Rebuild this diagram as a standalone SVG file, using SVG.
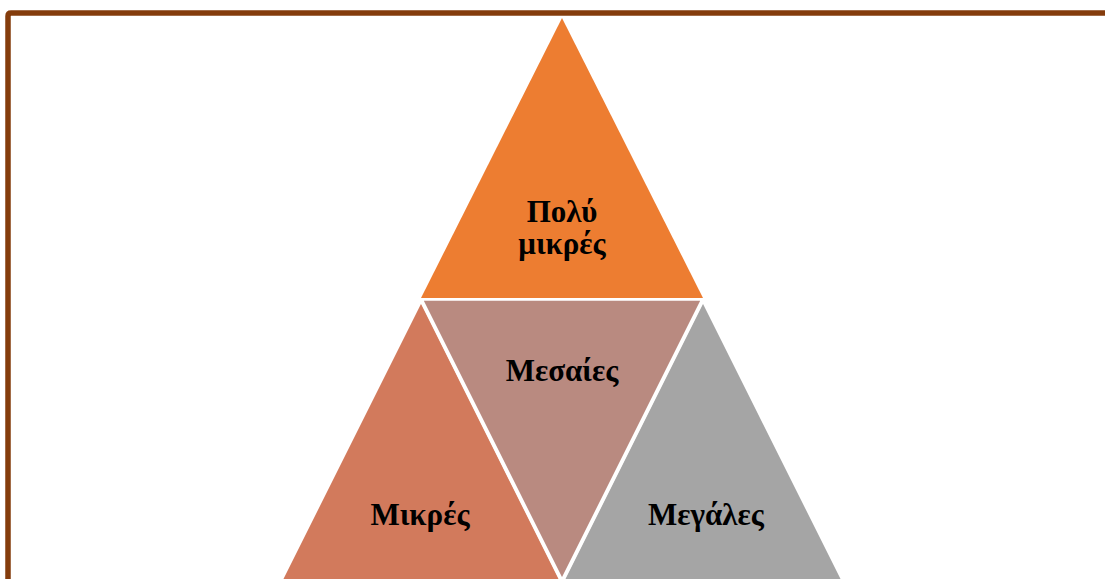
<svg xmlns="http://www.w3.org/2000/svg" width="1105" height="579" viewBox="0 0 1105 579">
<style>
.t{font-family:"Liberation Serif","Times New Roman",serif;font-weight:bold;font-size:31px;fill:#000;text-anchor:middle}
.s{stroke:#fff;stroke-width:3.5;stroke-linejoin:miter}
</style>
<rect width="1105" height="579" fill="#fff"/>
<path d="M8 579 V16 Q8 13 11 13 H1105" fill="none" stroke="#843C0C" stroke-width="5.5"/>
<g id="node-left">
<polygon class="s" points="421,300 279,584 563,584" fill="#D27A5C"/>
<text class="t" x="420" y="525">Μικρές</text>
</g>
<g id="node-right">
<polygon class="s" points="703,300 561,584 845,584" fill="#A5A5A5"/>
<text class="t" x="706" y="525">Μεγάλες</text>
</g>
<g id="node-middle">
<polygon class="s" points="421,299 703,299 562,581" fill="#B98A80"/>
<text class="t" x="562" y="381">Μεσαίες</text>
</g>
<g id="node-top">
<polygon points="562,18 421,298 703,298" fill="#ED7D31"/>
<text class="t" x="562" y="222">Πολύ</text>
<text class="t" x="562" y="254">μικρές</text>
</g>
<g id="connectors"/>
</svg>
